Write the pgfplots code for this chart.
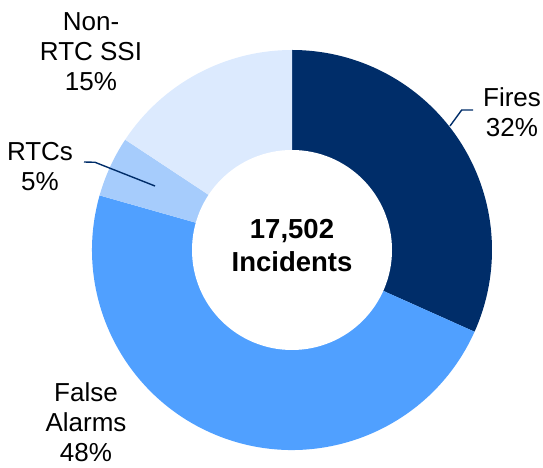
\documentclass[border=0pt]{standalone}
\usepackage{pgfplots}
\pgfplotsset{compat=1.18}
\usepackage{pgfplotstable}
\usepackage{fontspec}
\setmainfont{Liberation Sans}
\definecolor{cFires}{RGB}{0,45,105}
\definecolor{cFalse}{RGB}{80,160,255}
\definecolor{cRTC}{RGB}{166,204,252}
\definecolor{cNon}{RGB}{220,234,254}
\pgfplotstableread{
label value
Fires 31.7
FalseAlarms 47.7
RTCs 4.9
NonRTCSSI 15.7
}\slices
\begin{document}
\begin{tikzpicture}
\pgfplotstablegetelem{0}{value}\of\slices \let\vA\pgfplotsretval
\pgfplotstablegetelem{1}{value}\of\slices \let\vB\pgfplotsretval
\pgfplotstablegetelem{2}{value}\of\slices \let\vC\pgfplotsretval
\pgfplotstablegetelem{3}{value}\of\slices \let\vD\pgfplotsretval
\pgfmathsetmacro\aA{90}
\pgfmathsetmacro\aB{\aA-3.6*\vA}
\pgfmathsetmacro\aC{\aB-3.6*\vB}
\pgfmathsetmacro\aD{\aC-3.6*\vC}
\pgfmathsetmacro\aE{\aD-3.6*\vD}
\begin{axis}[hide axis, scale only axis, width=543bp, height=468bp,
  xmin=0, xmax=543, ymin=0, ymax=468, clip=false, anchor=south west, at={(0,0)}]
\fill[cFires] (axis cs:292,218) -- ++(\aA:200bp) arc[start angle=\aA, end angle=\aB, radius=200bp] -- cycle;
\fill[cFalse] (axis cs:292,218) -- ++(\aB:200bp) arc[start angle=\aB, end angle=\aC, radius=200bp] -- cycle;
\fill[cRTC] (axis cs:292,218) -- ++(\aC:200bp) arc[start angle=\aC, end angle=\aD, radius=200bp] -- cycle;
\fill[cNon] (axis cs:292,218) -- ++(\aD:200bp) arc[start angle=\aD, end angle=\aE, radius=200bp] -- cycle;
\fill[white] (axis cs:292,218) circle[radius=100bp];
\draw[cFires, line width=1.4bp] (axis cs:450,342) -- (axis cs:461.7,358) -- (axis cs:473,358);
\draw[cFires, line width=1.4bp] (axis cs:155,282) -- (axis cs:95,305.7) -- (axis cs:84,306);
\node[align=center, inner sep=0pt, font=\fontsize{26bp}{30bp}\selectfont] at (axis cs:512,356) {Fires\\32\%};
\node[align=center, inner sep=0pt, font=\fontsize{26bp}{30bp}\selectfont] at (axis cs:86,46) {False\\Alarms\\48\%};
\node[align=center, inner sep=0pt, font=\fontsize{26bp}{30bp}\selectfont] at (axis cs:40,301.5) {RTCs\\5\%};
\node[align=center, inner sep=0pt, font=\fontsize{26bp}{30bp}\selectfont] at (axis cs:91,416) {Non-\\RTC SSI\\15\%};
\node[align=center, inner sep=0pt, font=\fontsize{27.5bp}{33bp}\selectfont\bfseries] at (axis cs:292,222.5) {17,502\\Incidents};
\end{axis}
\pgfresetboundingbox
\useasboundingbox (0,0) rectangle (543bp,468bp);
\end{tikzpicture}
\end{document}
